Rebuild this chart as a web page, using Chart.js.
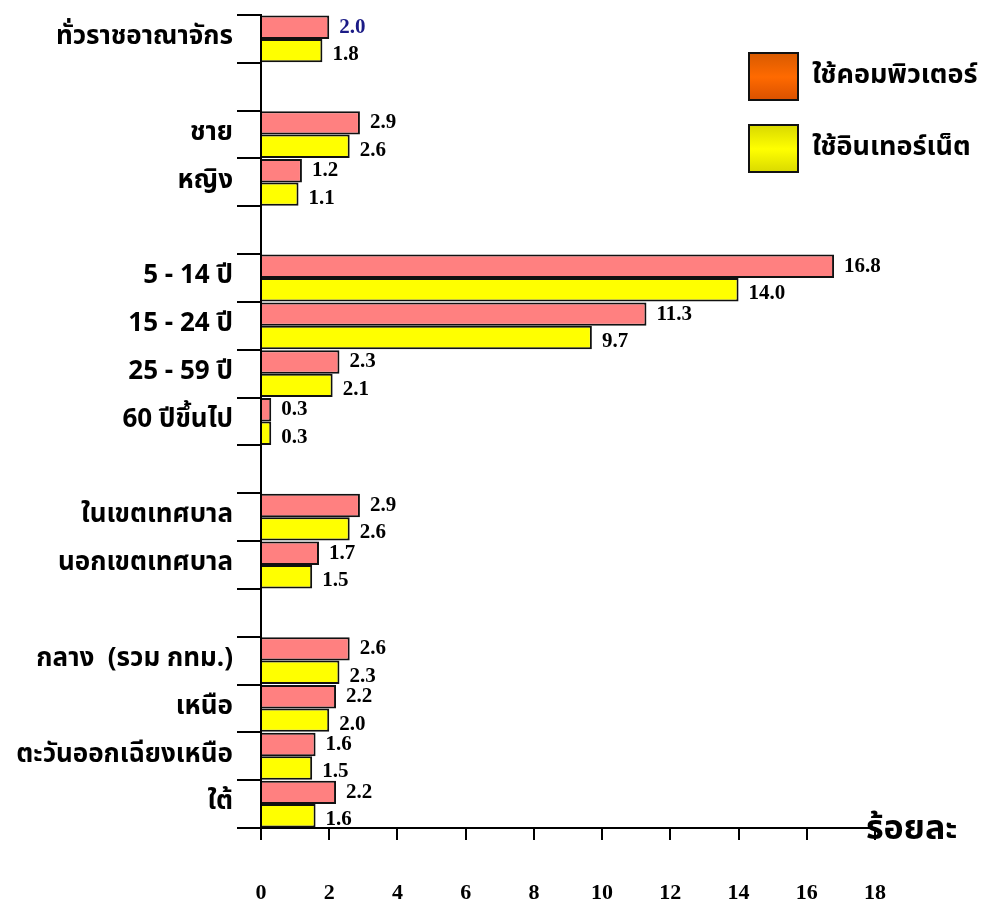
<!DOCTYPE html>
<html>
<head>
<meta charset="utf-8">
<script src="https://cdn.jsdelivr.net/npm/chart.js@4.4.1/dist/chart.umd.min.js"></script>
<style>
  body { margin: 0; background: #fff; }
  canvas { display: block; }
</style>
</head>
<body>
<canvas id="chart" width="981" height="903"></canvas>
<script>
// categories, '' = empty spacer row between groups
const categories = [
    'ทั่วราชอาณาจักร', '',
    'ชาย', 'หญิง', '',
    '5 - 14 ปี', '15 - 24 ปี', '25 - 59 ปี', '60 ปีขึ้นไป', '',
    'ในเขตเทศบาล', 'นอกเขตเทศบาล', '',
    'กลาง  (รวม กทม.)', 'เหนือ', 'ตะวันออกเฉียงเหนือ', 'ใต้'
];
const computerUse = [2.0, null, 2.9, 1.2, null, 16.8, 11.3, 2.3, 0.3, null, 2.9, 1.7, null, 2.6, 2.2, 1.6, 2.2];
const internetUse = [1.8, null, 2.6, 1.1, null, 14.0, 9.7, 2.1, 0.3, null, 2.6, 1.5, null, 2.3, 2.0, 1.5, 1.6];
const xTicks = [0, 2, 4, 6, 8, 10, 12, 14, 16, 18];
const seriesNames = ['ใช้คอมพิวเตอร์', 'ใช้อินเทอร์เน็ต'];
const unitLabel = 'ร้อยละ';

const thaiFont = "'Noto Sans Thai', 'Noto Serif Thai', 'Loma', 'Garuda', 'Tlwg Typo', 'Liberation Serif', serif";
const numFont = "'Liberation Serif', 'Times New Roman', serif";

// vertical gradient for each bar
function barFill(stops) {
    return (ctx) => {
        const chart = ctx.chart;
        const el = ctx.element;
        if (!chart.chartArea || !el || el.height == null || !isFinite(el.y)) return stops[1];
        const h = el.height || 20;
        const g = chart.ctx.createLinearGradient(0, el.y - h / 2, 0, el.y + h / 2);
        g.addColorStop(0, stops[0]);
        g.addColorStop(0.35, stops[1]);
        g.addColorStop(0.7, stops[1]);
        g.addColorStop(1, stops[2]);
        return g;
    };
}

const valueLabels = {
    id: 'valueLabels',
    afterDatasetsDraw(chart) {
        const ctx = chart.ctx;
        ctx.save();
        ctx.font = 'bold 21px ' + numFont;
        ctx.textAlign = 'left';
        ctx.textBaseline = 'middle';
        chart.data.datasets.forEach((ds, di) => {
            const meta = chart.getDatasetMeta(di);
            meta.data.forEach((bar, i) => {
                const v = ds.data[i];
                if (v == null) return;
                ctx.fillStyle = (di === 0 && i === 0) ? '#1b1b86' : '#000';
                ctx.fillText(v.toFixed(1), bar.x + 10, bar.y + (di === 1 ? 4 : 0));
            });
        });
        ctx.restore();
    }
};

const legendAndUnit = {
    id: 'legendAndUnit',
    afterDraw(chart) {
        const ctx = chart.ctx;
        ctx.save();
        const boxes = [
            { y: 53, stops: ['#d85a00', '#ff6a00', '#d85000'] },
            { y: 125, stops: ['#d8d800', '#ffff00', '#d8d800'] }
        ];
        boxes.forEach((b, i) => {
            const g = ctx.createLinearGradient(0, b.y, 0, b.y + 48);
            g.addColorStop(0, b.stops[0]);
            g.addColorStop(0.5, b.stops[1]);
            g.addColorStop(1, b.stops[2]);
            ctx.fillStyle = g;
            ctx.fillRect(749, b.y, 49, 47);
            ctx.lineWidth = 2;
            ctx.strokeStyle = '#111';
            ctx.strokeRect(749, b.y, 49, 47);
            ctx.fillStyle = '#000';
            ctx.font = 'bold 27px ' + thaiFont;
            ctx.textAlign = 'left';
            ctx.textBaseline = 'middle';
            ctx.fillText(seriesNames[i], 812, b.y + 25);
        });
        ctx.font = 'bold 34px ' + thaiFont;
        ctx.textAlign = 'left';
        ctx.textBaseline = 'middle';
        ctx.fillText(unitLabel, 866, 832);
        ctx.restore();
    }
};

new Chart(document.getElementById('chart').getContext('2d'), {
    type: 'bar',
    data: {
        labels: categories,
        datasets: [{
            label: seriesNames[0],
            data: computerUse,
            backgroundColor: barFill(['#c85f5f', '#ff8080', '#d66a6a']),
            borderColor: '#111',
            borderWidth: 2,
            borderSkipped: 'start',
            barPercentage: 1,
            categoryPercentage: 0.98
        }, {
            label: seriesNames[1],
            data: internetUse,
            backgroundColor: barFill(['#d6d600', '#ffff00', '#dede00']),
            borderColor: '#111',
            borderWidth: 2,
            borderSkipped: 'start',
            barPercentage: 1,
            categoryPercentage: 0.98
        }]
    },
    options: {
        indexAxis: 'y',
        responsive: false,
        animation: false,
        layout: { padding: { top: 15, right: 106, left: 0, bottom: 0 } },
        plugins: {
            legend: { display: false },
            tooltip: { enabled: false }
        },
        scales: {
            x: {
                min: 0,
                max: 18,
                afterBuildTicks: (scale) => { scale.ticks = xTicks.map(v => ({ value: v })); },
                afterFit: (scale) => { scale.height = 75; scale.paddingLeft = 0; scale.paddingRight = 0; },
                border: { display: true, color: '#000', width: 2 },
                grid: { drawOnChartArea: false, tickLength: 12, color: '#000', lineWidth: 2 },
                ticks: {
                    padding: 40,
                    color: '#000',
                    font: { family: numFont, size: 22, weight: 'bold' }
                }
            },
            y: {
                afterFit: (scale) => { scale.width = 261; scale.paddingTop = 0; scale.paddingBottom = 0; },
                border: { display: true, color: '#000', width: 2 },
                grid: { drawOnChartArea: false, tickLength: 24, color: '#000', lineWidth: 2 },
                ticks: {
                    padding: 4,
                    color: '#000',
                    autoSkip: false,
                    font: { family: thaiFont, size: 26, weight: 'bold' }
                }
            }
        }
    },
    plugins: [valueLabels, legendAndUnit]
});
</script>
</body>
</html>
